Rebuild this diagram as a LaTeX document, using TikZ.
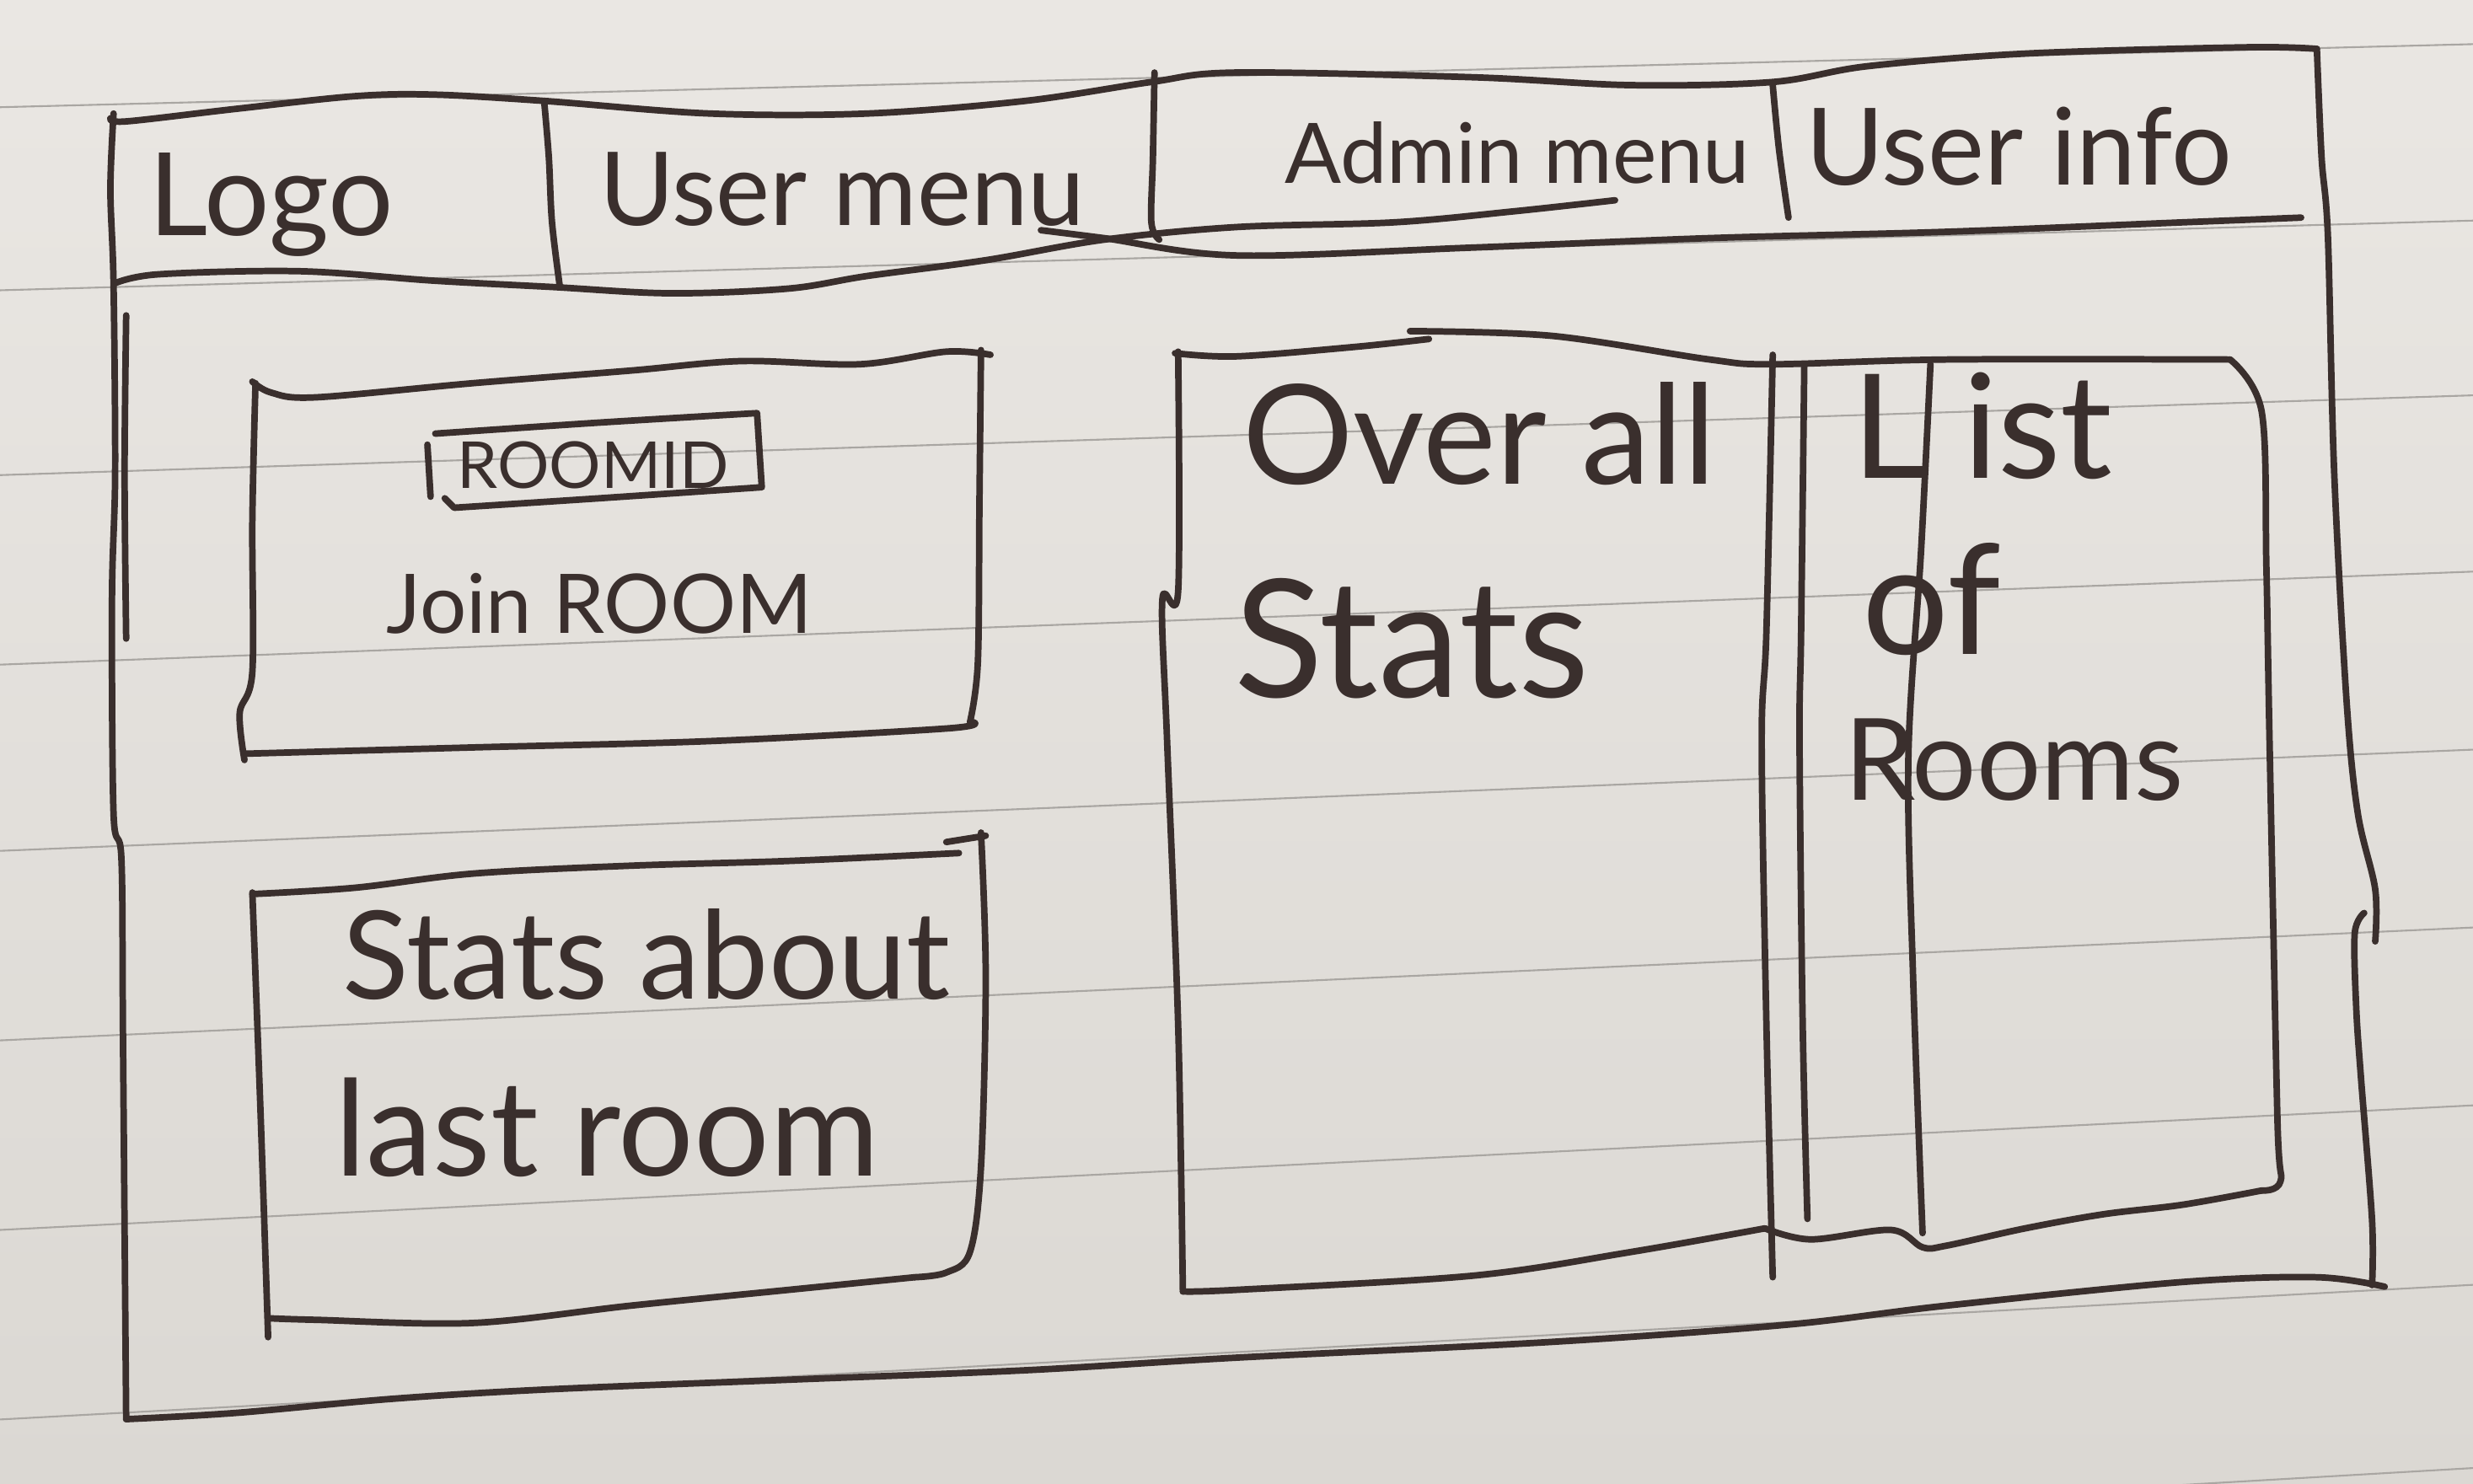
\documentclass[tikz,border=0pt]{standalone}
\usepackage{fontspec}
\setmainfont{Lato}
\usepackage{graphicx}
\newlength{\hwunit}
\setlength{\hwunit}{0.5324pt}
\newcommand{\hwtext}[2]{\resizebox{#1\hwunit}{!}{#2}}
\definecolor{ink}{HTML}{3A2F2D}
\definecolor{papertop}{HTML}{EAE7E3}
\definecolor{paperbot}{HTML}{DBD8D3}
\definecolor{rulecol}{HTML}{A9A6A2}
\tikzset{
  pen/.style={draw=ink, line width=2.2pt, line cap=round, line join=round},
  ruleline/.style={draw=rulecol, line width=0.6pt},
  lbl/.style={text=ink, inner sep=0pt, anchor=center},
  sm/.style={smooth, tension=0.55}
}
\begin{document}
\begin{tikzpicture}[x=0.5324pt, y=-0.5324pt]
\useasboundingbox (0,0) rectangle (1568,941);
\begin{scope}
\clip (0,0) rectangle (1568,941);
\shade[top color=papertop, bottom color=paperbot] (0,0) rectangle (1568,941);
% ruled paper lines
\draw[ruleline] (0,68.0) -- (1568,28.0);
\draw[ruleline] (0,184.1) -- (1568,139.9);
\draw[ruleline] (0,301.3) -- (1568,250.7);
\draw[ruleline] (0,421.5) -- (1568,362.5);
\draw[ruleline] (0,539.6) -- (1568,475.4);
\draw[ruleline] (0,659.8) -- (1568,588.2);
\draw[ruleline] (0,780.0) -- (1568,701.0);
\draw[ruleline] (0,900.2) -- (1568,814.8);
\draw[ruleline] (0,1022) -- (1568,931);
\end{scope}

% ---------- outer frame ----------
\draw[pen] plot[sm] coordinates {(70,75) (80,77) (150,69) (225,61) (275,60) (345,64) (450,72) (550,72) (650,64) (730,52) (784,46) (934,49) (1034,54) (1124,52) (1184,42) (1284,34) (1424,30) (1469,31)};
\draw[pen] plot[sm] coordinates {(1469,31) (1472,100) (1476,150) (1480,300) (1488,447) (1495,516) (1506,564) (1506,597)};
\draw[pen] plot[sm] coordinates {(1499,579) (1493,592) (1494,640) (1497,684) (1504,774) (1504,815)};
\draw[pen] plot[sm] coordinates {(1512,816) (1469,810) (1384,813) (1234,828) (1134,840) (984,851) (784,861) (650,869) (500,875) (350,881) (250,887) (150,896) (80,900)};
\draw[pen] plot[sm] coordinates {(72,72) (70,120) (72,180) (73,300) (71,380) (72,516) (77,545) (78,660) (80,900)};
\draw[pen] plot[sm] coordinates {(80,200) (79,300) (80,405)};

% ---------- header ----------
\draw[pen] plot[sm] coordinates {(72,180) (100,174) (190,172) (275,178) (350,182) (425,186) (500,183) (550,175) (625,165) (700,152) (784,144) (884,141) (960,134) (1024,127)};
\draw[pen] plot[sm] coordinates {(660,146) (700,151) (784,162) (934,157) (1084,151) (1234,147) (1384,141) (1459,138)};
\draw[pen] plot[sm] coordinates {(345,64) (348,100) (350,141) (355,182)};
\draw[pen] plot[sm] coordinates {(732,46) (731,100) (730,141) (735,152)};
\draw[pen] plot[sm] coordinates {(1124,54) (1128,95) (1134,138)};

\node[lbl] (logo) at (172,130) {\hwtext{155}{Logo}};
\node[lbl] (usermenu) at (534,120) {\hwtext{308}{User menu}};
\node[lbl] (adminmenu) at (962,97) {\hwtext{295}{Admin menu}};
\node[lbl] (userinfo) at (1280,93) {\hwtext{270}{User info}};

% ---------- join room box ----------
\draw[pen] plot[sm] coordinates {(160,242) (172,249) (200,252) (300,243) (400,235) (470,229) (545,231) (600,223) (628,225)};
\draw[pen] plot[sm] coordinates {(162,243) (160,330) (160,426) (152,452) (155,482)};
\draw[pen] plot[sm] coordinates {(155,478) (300,474) (450,470) (600,462) (617,458)};
\draw[pen] plot[sm] coordinates {(622,222) (621,320) (620,420) (615,458)};
\draw[pen] (271,282) -- (273,315);
\draw[pen] plot[sm] coordinates {(276,275) (380,268) (480,262)} -- (483,309) -- plot[sm] coordinates {(483,309) (380,316) (288,322)} -- (282,316);

\node[lbl] (roomid) at (376,295) {\hwtext{172}{ROOMID}};
\node[lbl] (joinroom) at (380,383) {\hwtext{270}{Join ROOM}};

% ---------- stats about last room box ----------
\draw[pen] plot[sm] coordinates {(160,567) (225,563) (300,554) (400,549) (500,546) (608,541)};
\draw[pen] (600,534) -- (625,530);
\draw[pen] plot[sm] coordinates {(622,528) (625,620) (622,740) (615,794) (600,807) (580,810)};
\draw[pen] plot[sm] coordinates {(580,810) (500,818) (400,828) (300,839) (200,837) (170,836)};
\draw[pen] plot[sm] coordinates {(160,566) (165,700) (170,848)};

\node[lbl] (statsabout) at (410,605) {\hwtext{385}{Stats about}};
\node[lbl] (lastroom) at (385,715) {\hwtext{345}{last room}};

% ---------- overall stats box ----------
\draw[pen] plot[sm] coordinates {(745,224) (784,226) (859,220) (906,215)};
\draw[pen] plot[sm] coordinates {(894,210) (984,213) (1084,228) (1124,231) (1234,228) (1414,228)};
\draw[pen] plot[sm] coordinates {(747,223) (747,375) (737,380) (740,470) (747,650) (750,819)};
\draw[pen] plot[sm] coordinates {(750,819) (784,818) (934,809) (1034,794) (1119,779)};
\draw[pen] plot[sm] coordinates {(1119,779) (1148,786) (1199,780) (1219,791) (1234,790) (1284,779) (1334,770) (1384,764) (1434,755)};
\draw[pen] plot[sm] coordinates {(1124,225) (1120,400) (1117,470) (1120,650) (1124,810)};
\draw[pen] plot[sm] coordinates {(1144,232) (1142,400) (1141,470) (1143,650) (1146,773)};
\draw[pen] plot[sm] coordinates {(1224,231) (1218,350) (1210,480) (1213,620) (1219,782)};
\draw[pen] plot[sm] coordinates {(1414,228) (1434,261) (1437,360) (1439,470) (1444,710) (1446,749) (1434,755)};

\node[lbl] (overall) at (938,275) {\hwtext{300}{Over all}};
\node[lbl] (stats) at (895,405) {\hwtext{225}{Stats}};
\node[lbl] (list) at (1257,270) {\hwtext{165}{L\kern0.25em ist}};
\node[lbl] (of) at (1225,380) {\hwtext{88}{of}};
\node[lbl] (rooms) at (1277,482) {\hwtext{215}{Rooms}};
\end{tikzpicture}
\end{document}
